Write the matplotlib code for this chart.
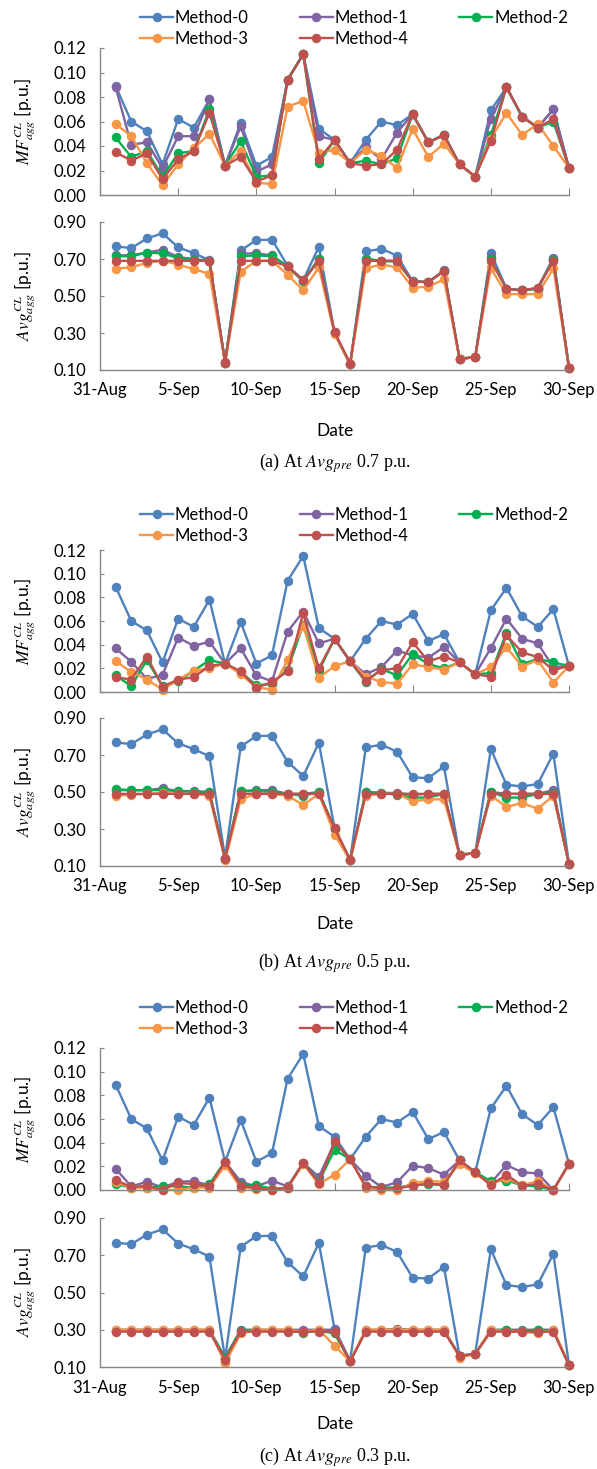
import matplotlib
matplotlib.use('Agg')
import matplotlib.pyplot as plt
from matplotlib.lines import Line2D

# days of September (x = 0 is 31-Aug)
days = list(range(1, 31))
tick_pos = [0, 5, 10, 15, 20, 25, 30]
tick_labels = ['31-Aug', '5-Sep', '10-Sep', '15-Sep', '20-Sep', '25-Sep', '30-Sep']
methods = ['Method-0', 'Method-1', 'Method-2', 'Method-3', 'Method-4']
colors = ['#4F81BD', '#8064A2', '#00B050', '#F79646', '#C0504D']

m0_mf = [0.089, 0.060, 0.052, 0.025, 0.062, 0.055, 0.078, 0.024, 0.059, 0.024, 0.031, 0.094, 0.115, 0.054, 0.045,
         0.026, 0.045, 0.060, 0.057, 0.066, 0.043, 0.049, 0.025, 0.015, 0.069, 0.088, 0.064, 0.055, 0.070, 0.022]
m0_avg = [0.768, 0.759, 0.811, 0.839, 0.763, 0.732, 0.693, 0.145, 0.746, 0.802, 0.805, 0.663, 0.586, 0.766, 0.305,
          0.133, 0.741, 0.755, 0.718, 0.579, 0.575, 0.638, 0.159, 0.170, 0.732, 0.539, 0.530, 0.543, 0.707, 0.112]

# (a) Avg_pre 0.7
a_mf1 = [0.088, 0.041, 0.043, 0.022, 0.048, 0.048, 0.078, 0.024, 0.056, 0.019, 0.025, 0.094, 0.115, 0.048, 0.045,
         0.026, 0.039, 0.029, 0.051, 0.066, 0.043, 0.049, 0.025, 0.015, 0.062, 0.088, 0.064, 0.055, 0.070, 0.022]
a_mf2 = [0.047, 0.031, 0.036, 0.015, 0.034, 0.036, 0.070, 0.024, 0.044, 0.015, 0.016, 0.094, 0.115, 0.026, 0.045,
         0.026, 0.028, 0.025, 0.030, 0.066, 0.043, 0.049, 0.025, 0.015, 0.049, 0.088, 0.064, 0.055, 0.060, 0.022]
a_mf3 = [0.058, 0.048, 0.026, 0.008, 0.025, 0.038, 0.050, 0.024, 0.036, 0.010, 0.009, 0.072, 0.077, 0.034, 0.037,
         0.026, 0.037, 0.032, 0.022, 0.054, 0.031, 0.042, 0.025, 0.015, 0.046, 0.067, 0.049, 0.058, 0.040, 0.022]
a_mf4 = [0.035, 0.028, 0.034, 0.013, 0.029, 0.036, 0.067, 0.024, 0.031, 0.011, 0.016, 0.094, 0.115, 0.029, 0.045,
         0.026, 0.024, 0.025, 0.037, 0.066, 0.043, 0.049, 0.025, 0.015, 0.044, 0.088, 0.064, 0.055, 0.062, 0.022]
a_avg1 = [0.72, 0.72, 0.735, 0.75, 0.71, 0.70, 0.69, 0.14, 0.73, 0.73, 0.72, 0.66, 0.58, 0.70, 0.30,
          0.13, 0.70, 0.69, 0.69, 0.58, 0.575, 0.635, 0.16, 0.17, 0.71, 0.54, 0.53, 0.54, 0.70, 0.11]
a_avg2 = [0.715, 0.715, 0.735, 0.73, 0.705, 0.695, 0.69, 0.14, 0.715, 0.72, 0.715, 0.66, 0.58, 0.70, 0.30,
          0.13, 0.70, 0.69, 0.685, 0.578, 0.575, 0.635, 0.16, 0.17, 0.70, 0.54, 0.53, 0.54, 0.695, 0.11]
a_avg3 = [0.648, 0.655, 0.68, 0.69, 0.67, 0.645, 0.62, 0.14, 0.63, 0.69, 0.69, 0.615, 0.53, 0.655, 0.295,
          0.13, 0.65, 0.67, 0.655, 0.545, 0.55, 0.59, 0.16, 0.17, 0.65, 0.51, 0.51, 0.51, 0.65, 0.11]
a_avg4 = [0.69, 0.69, 0.69, 0.69, 0.69, 0.69, 0.69, 0.14, 0.69, 0.69, 0.69, 0.66, 0.585, 0.69, 0.305,
          0.135, 0.69, 0.69, 0.69, 0.578, 0.575, 0.635, 0.16, 0.17, 0.69, 0.54, 0.53, 0.545, 0.69, 0.11]

# (b) Avg_pre 0.5
b_mf1 = [0.037, 0.0255, 0.011, 0.0145, 0.046, 0.039, 0.0425, 0.024, 0.037, 0.014, 0.009, 0.051, 0.068, 0.041, 0.045,
         0.026, 0.015, 0.021, 0.035, 0.031, 0.029, 0.038, 0.025, 0.015, 0.037, 0.062, 0.045, 0.041, 0.021, 0.022]
b_mf2 = [0.014, 0.005, 0.027, 0.005, 0.009, 0.018, 0.027, 0.024, 0.017, 0.0055, 0.007, 0.019, 0.057, 0.018, 0.045,
         0.026, 0.0085, 0.0195, 0.014, 0.032, 0.0235, 0.020, 0.025, 0.015, 0.016, 0.050, 0.0235, 0.028, 0.025, 0.022]
b_mf3 = [0.026, 0.017, 0.0105, 0.002, 0.0105, 0.018, 0.020, 0.024, 0.015, 0.004, 0.002, 0.027, 0.056, 0.012, 0.022,
         0.026, 0.013, 0.0085, 0.007, 0.0235, 0.021, 0.019, 0.025, 0.015, 0.021, 0.038, 0.0215, 0.027, 0.008, 0.022]
b_mf4 = [0.0125, 0.0105, 0.030, 0.0045, 0.0105, 0.0125, 0.022, 0.024, 0.0175, 0.0035, 0.0085, 0.0175, 0.0665, 0.020, 0.045,
         0.026, 0.0095, 0.0185, 0.020, 0.042, 0.026, 0.030, 0.025, 0.015, 0.013, 0.048, 0.0335, 0.0295, 0.0185, 0.022]
b_avg1 = [0.51, 0.51, 0.51, 0.52, 0.505, 0.505, 0.50, 0.14, 0.505, 0.51, 0.51, 0.49, 0.49, 0.50, 0.30,
          0.13, 0.50, 0.495, 0.495, 0.485, 0.49, 0.49, 0.16, 0.17, 0.50, 0.49, 0.49, 0.49, 0.51, 0.11]
b_avg2 = [0.515, 0.51, 0.51, 0.51, 0.505, 0.50, 0.50, 0.14, 0.505, 0.505, 0.50, 0.49, 0.48, 0.50, 0.30,
          0.13, 0.50, 0.495, 0.485, 0.47, 0.47, 0.49, 0.16, 0.17, 0.50, 0.47, 0.47, 0.49, 0.495, 0.11]
b_avg3 = [0.48, 0.485, 0.49, 0.495, 0.49, 0.49, 0.48, 0.13, 0.46, 0.49, 0.49, 0.48, 0.43, 0.49, 0.27,
          0.13, 0.48, 0.49, 0.49, 0.45, 0.46, 0.46, 0.16, 0.17, 0.48, 0.42, 0.44, 0.41, 0.48, 0.11]
b_avg4 = [0.49, 0.49, 0.49, 0.49, 0.49, 0.49, 0.49, 0.14, 0.49, 0.49, 0.49, 0.49, 0.49, 0.49, 0.305,
          0.135, 0.49, 0.49, 0.49, 0.49, 0.49, 0.49, 0.16, 0.17, 0.49, 0.49, 0.49, 0.49, 0.49, 0.11]

# (c) Avg_pre 0.3
c_mf1 = [0.018, 0.003, 0.007, 0.002, 0.007, 0.0075, 0.004, 0.024, 0.007, 0.003, 0.008, 0.003, 0.023, 0.011, 0.040,
         0.026, 0.012, 0.0025, 0.0065, 0.0205, 0.0185, 0.013, 0.025, 0.015, 0.006, 0.021, 0.015, 0.014, 0.000, 0.022]
c_mf2 = [0.005, 0.002, 0.002, 0.0035, 0.003, 0.002, 0.005, 0.024, 0.004, 0.004, 0.001, 0.002, 0.023, 0.007, 0.034,
         0.026, 0.003, 0.002, 0.002, 0.004, 0.005, 0.004, 0.025, 0.015, 0.0075, 0.008, 0.004, 0.003, 0.000, 0.022]
c_mf3 = [0.007, 0.0015, 0.002, 0.000, 0.000, 0.002, 0.002, 0.021, 0.002, 0.001, 0.000, 0.002, 0.022, 0.005, 0.013,
         0.026, 0.002, 0.000, 0.000, 0.006, 0.0075, 0.007, 0.022, 0.014, 0.005, 0.010, 0.004, 0.0075, 0.000, 0.022]
c_mf4 = [0.0085, 0.0025, 0.0035, 0.000, 0.006, 0.005, 0.003, 0.024, 0.0035, 0.0015, 0.000, 0.002, 0.023, 0.006, 0.041,
         0.026, 0.003, 0.0015, 0.0015, 0.0035, 0.0055, 0.0045, 0.025, 0.015, 0.004, 0.013, 0.0035, 0.005, 0.000, 0.022]
c_avg1 = [0.30, 0.30, 0.30, 0.30, 0.30, 0.30, 0.30, 0.15, 0.30, 0.30, 0.30, 0.30, 0.30, 0.30, 0.30,
          0.13, 0.30, 0.30, 0.305, 0.30, 0.30, 0.30, 0.16, 0.17, 0.30, 0.30, 0.30, 0.30, 0.30, 0.11]
c_avg2 = [0.295, 0.295, 0.295, 0.295, 0.295, 0.295, 0.295, 0.15, 0.295, 0.30, 0.295, 0.295, 0.285, 0.295, 0.28,
          0.13, 0.295, 0.295, 0.295, 0.295, 0.295, 0.295, 0.16, 0.17, 0.295, 0.30, 0.295, 0.30, 0.295, 0.11]
c_avg3 = [0.30, 0.30, 0.30, 0.30, 0.30, 0.30, 0.30, 0.12, 0.28, 0.30, 0.30, 0.30, 0.29, 0.30, 0.215,
          0.13, 0.30, 0.30, 0.30, 0.30, 0.30, 0.30, 0.15, 0.17, 0.30, 0.29, 0.29, 0.28, 0.30, 0.11]
c_avg4 = [0.29, 0.29, 0.29, 0.29, 0.29, 0.29, 0.29, 0.14, 0.29, 0.29, 0.29, 0.29, 0.29, 0.29, 0.29,
          0.13, 0.29, 0.29, 0.29, 0.29, 0.29, 0.29, 0.16, 0.17, 0.29, 0.29, 0.29, 0.29, 0.29, 0.11]

panels = [
    ('(a) At ', ' 0.7 p.u.', [m0_mf, a_mf1, a_mf2, a_mf3, a_mf4], [m0_avg, a_avg1, a_avg2, a_avg3, a_avg4]),
    ('(b) At ', ' 0.5 p.u.', [m0_mf, b_mf1, b_mf2, b_mf3, b_mf4], [m0_avg, b_avg1, b_avg2, b_avg3, b_avg4]),
    ('(c) At ', ' 0.3 p.u.', [m0_mf, c_mf1, c_mf2, c_mf3, c_mf4], [m0_avg, c_avg1, c_avg2, c_avg3, c_avg4]),
]

plt.rcParams['font.family'] = ['Lato', 'DejaVu Sans']
plt.rcParams['mathtext.fontset'] = 'stix'

W, H = 597, 1469
fig = plt.figure(figsize=(W / 100, H / 100), dpi=100)

# pixel layout: (mf_top, mf_bottom, avg_top, avg_bottom, legend_y, date_y, caption_y)
layout = [
    (48, 195, 222, 370, 10, 431, 463),
    (550, 692, 718, 866, 507, 924, 963),
    (1048, 1190, 1218, 1367, 1000, 1424, 1457),
]
x0, x1 = 100, 569
spine_col = '#868686'
lw, ms = 1.7, 5.8


def make_ax(top, bottom):
    ax = fig.add_axes([x0 / W, 1 - bottom / H, (x1 - x0) / W, (bottom - top) / H])
    for s in ['top', 'right']:
        ax.spines[s].set_visible(False)
    for s in ['left', 'bottom']:
        ax.spines[s].set_color(spine_col)
        ax.spines[s].set_linewidth(1.0)
    ax.set_xlim(0, 30)
    ax.set_xticks(tick_pos)
    ax.tick_params(axis='both', labelsize=12, colors=spine_col, labelcolor='black')
    ax.tick_params(axis='y', direction='in', length=3, pad=10)
    ax.patch.set_alpha(0)
    return ax


for (cap_a, cap_b, mf_series, avg_series), (mt, mb, at, ab, ly, dy, cy) in zip(panels, layout):
    ax1 = make_ax(mt, mb)
    ax2 = make_ax(at, ab)
    for i in range(5):
        ax1.plot(days, mf_series[i], '-o', color=colors[i], lw=lw, ms=ms, clip_on=False)
        ax2.plot(days, avg_series[i], '-o', color=colors[i], lw=lw, ms=ms, clip_on=False)
    ax1.set_ylim(0, 0.12)
    ax1.set_yticks([0, 0.02, 0.04, 0.06, 0.08, 0.10, 0.12])
    ax1.set_yticklabels(['0.00', '0.02', '0.04', '0.06', '0.08', '0.10', '0.12'])
    ax1.set_xticklabels([])
    ax1.tick_params(axis='x', direction='in', length=5)
    ax2.set_ylim(0.1, 0.9)
    ax2.set_yticks([0.1, 0.3, 0.5, 0.7, 0.9])
    ax2.set_yticklabels(['0.10', '0.30', '0.50', '0.70', '0.90'])
    ax2.set_xticklabels(tick_labels)
    ax2.tick_params(axis='x', length=0, pad=9)
    ax1.set_ylabel(r'$MF_{agg}^{CL}$ [p.u.]', fontsize=12.5)
    ax2.set_ylabel(r'$Avg_{agg}^{CL}$ [p.u.]', fontsize=12.5)
    ax1.yaxis.set_label_coords(-0.135, 0.5)
    ax2.yaxis.set_label_coords(-0.135, 0.5)

    handles = [Line2D([], [], color=colors[i], marker='o', lw=lw, ms=ms) for i in range(5)]
    order = [0, 3, 1, 4, 2]
    fig.legend([handles[i] for i in order], [methods[i] for i in order],
               loc='upper left', bbox_to_anchor=(140 / W, 1 - ly / H, (568 - 140) / W, 0),
               mode='expand', ncol=3, frameon=False,
               fontsize=12, handlelength=2.0, handletextpad=0.1,
               labelspacing=0.3, borderaxespad=0, borderpad=0)

    fig.text((x0 + x1) / 2 / W, 1 - dy / H, 'Date', ha='center', va='center', fontsize=12.5)
    fig.text((x0 + x1) / 2 / W, 1 - cy / H, cap_a + r'$\mathit{Avg}_{\mathit{pre}}$' + cap_b,
             ha='center', va='center', fontsize=13, family='Liberation Serif')

fig.savefig('out.png', dpi=100)
